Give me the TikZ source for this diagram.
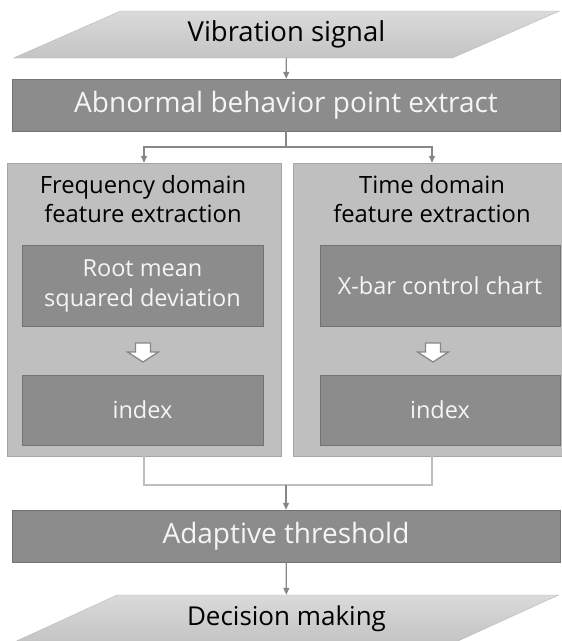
\documentclass[tikz,border=0pt]{standalone}
\usepackage{fontspec}
\setmainfont{Open Sans}
\usetikzlibrary{shapes.geometric, arrows.meta, positioning, calc}
\definecolor{stagecolor}{RGB}{140,140,140}
\definecolor{stageline}{RGB}{115,115,115}
\definecolor{panelcolor}{RGB}{191,191,191}
\definecolor{panelline}{RGB}{166,166,166}
\definecolor{iotop}{RGB}{218,218,218}
\definecolor{iobottom}{RGB}{196,196,196}
\definecolor{ioline}{RGB}{185,185,185}
\definecolor{linkcolor}{RGB}{135,135,135}
\definecolor{joincolor}{RGB}{190,190,190}

\begin{document}
\begin{tikzpicture}[
    x=1pt, y=-1pt,
    iobox/.style={trapezium, trapezium left angle=23.3, trapezium right angle=156.7, trapezium stretches=true, draw=ioline, top color=iotop, bottom color=iobottom, minimum width=547pt, minimum height=47pt, inner sep=0pt, font=\fontsize{27.5pt}{33pt}\selectfont},
    stage/.style={draw=stageline, fill=stagecolor, text=white!96!black, minimum width=548pt, minimum height=52pt, inner sep=0pt, font=\fontsize{28pt}{33pt}\selectfont},
    panel/.style={draw=panelline, fill=panelcolor, minimum height=293pt, inner sep=0pt},
    title/.style={align=center, font=\fontsize{23.8pt}{29pt}\selectfont},
    inner/.style={draw=stageline, fill=stagecolor, text=white!96!black, align=center, minimum width=241pt, inner sep=0pt, font=\fontsize{23.5pt}{30pt}\selectfont},
    hollow/.style={draw=linkcolor, fill=white, line width=1.3pt, line join=miter},
    arrow/.style={-{Triangle[length=7pt, width=6pt]}, draw=linkcolor, line width=1.2pt},
    link/.style={draw=joincolor, line width=1.2pt}
]
    \useasboundingbox (0,0) rectangle (562,641);

    % Input and first stage
    \node[iobox] (signal) at (286.5,34.5) {Vibration signal};
    \node[stage] (extract) at (286,105) {Abnormal behavior point extract};

    % Feature panels
    \node[panel, minimum width=274pt] (freq) at (144,309.5) {};
    \node[panel, minimum width=278pt] (time) at (432,309.5) {};
    \node[title] (freqtitle) at (143,199.5) {Frequency domain\\feature extraction};
    \node[title] (timetitle) at (432,199.5) {Time domain\\feature extraction};

    \node[inner, minimum height=81pt] (rmsd) at (142.5,285.5) {Root mean\\squared deviation};
    \node[inner, minimum height=70pt] (freqindex) at (142.5,410) {index};
    \node[inner, minimum height=81pt, minimum width=240pt] (xbar) at (440,285.5) {X-bar control chart};
    \node[inner, minimum height=70pt, minimum width=240pt] (timeindex) at (440,410) {index};

    % Hollow step arrows
    \foreach \cx in {143,433}
        \draw[hollow] (\cx-7.5,343) -- (\cx+7.5,343) -- (\cx+7.5,352) -- (\cx+15.5,352)
            -- (\cx,362) -- (\cx-15.5,352) -- (\cx-7.5,352) -- cycle;

    % Output
    \node[stage] (threshold) at (286,536) {Adaptive threshold};
    \node[iobox, font=\fontsize{26pt}{31pt}\selectfont] (decision) at (286.5,618.5) {Decision making};

    % Arrows
    \coordinate (split) at (286,147);
    \coordinate (merge) at (286,485);
    \draw[arrow] (signal) -- (extract);
    \draw[link, draw=linkcolor] (extract) -- (split);
    \draw[arrow] (split) -| (freq.north);
    \draw[arrow] (split) -| (time.north);
    \draw[link] (freq.south) |- (merge) -| (time.south);
    \draw[arrow] (merge) -- (threshold);
    \draw[arrow] (threshold) -- (decision);
\end{tikzpicture}
\end{document}
